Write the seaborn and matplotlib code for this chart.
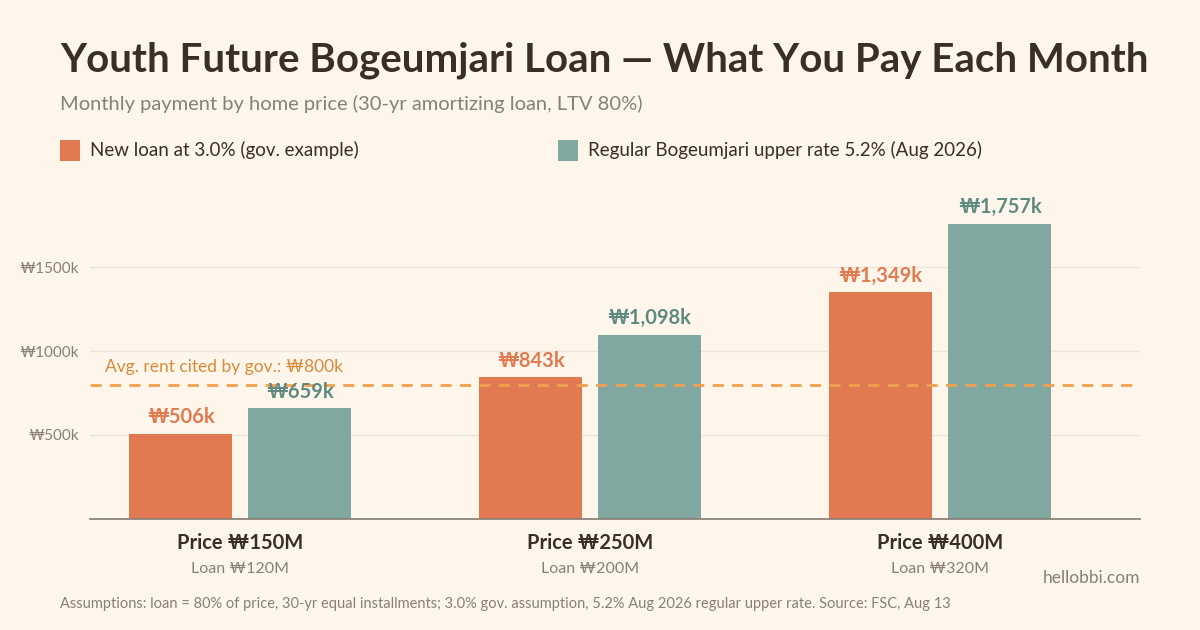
import matplotlib
matplotlib.use("Agg")
import matplotlib.pyplot as plt
import seaborn as sns
import pandas as pd

groups = ["Price ₩150M", "Price ₩250M", "Price ₩400M"]
loans = ["Loan ₩120M", "Loan ₩200M", "Loan ₩320M"]
series = ["New loan at 3.0% (gov. example)", "Regular Bogeumjari upper rate 5.2% (Aug 2026)"]
vals_30 = [506, 843, 1349]
vals_52 = [659, 1098, 1757]
rent = 800
yticks = [500, 1000, 1500]

BG = "#FEF6EA"
C1, C2 = "#E27A51", "#80A8A0"
sns.set_theme(style="white")
plt.rcParams['font.family'] = ['Lato', 'DejaVu Sans']

df = pd.DataFrame({"group": groups * 2, "series": [series[0]] * 3 + [series[1]] * 3,
                   "val": vals_30 + vals_52})

fig = plt.figure(figsize=(12, 6.3), dpi=100, facecolor=BG)
ax = fig.add_axes([0.075, 0.1762, 0.875, 0.5333])
ax.set_facecolor(BG)
sns.barplot(data=df, x="group", y="val", hue="series", palette=[C1, C2],
            ax=ax, width=0.68, gap=0.14, legend=False, saturation=1, linewidth=0)
ax.set_xlim(-0.4286, 2.5714)
ax.set_ylim(0, 2000)
ax.set_yticks(yticks)
ax.set_yticklabels([f"₩{v}k" for v in yticks], color="#8a7f76", fontsize=11)
ax.tick_params(axis='y', length=0, pad=8)
ax.grid(axis='y', color="#EDE3D6", lw=1)
ax.set_axisbelow(True)
for s in ["top", "right", "left"]:
    ax.spines[s].set_visible(False)
ax.spines["bottom"].set_color("#8a7f76")
ax.set_xlabel(""); ax.set_ylabel("")
ax.set_xticks([0, 1, 2])
ax.set_xticklabels([])
ax.tick_params(axis='x', length=0)
for i, (g, l) in enumerate(zip(groups, loans)):
    ax.text(i, -0.07, g, transform=ax.get_xaxis_transform(), ha="center", va="center",
            fontsize=14.5, fontweight="bold", color="#3a2e26")
    ax.text(i, -0.15, l, transform=ax.get_xaxis_transform(), ha="center", va="center",
            fontsize=11.5, color="#8a7f76")

for cont, col in zip(ax.containers, [C1, "#5f8a82"]):
    for b in cont:
        h = b.get_height()
        ax.text(b.get_x() + b.get_width() / 2, h + 40, f"₩{h:,.0f}k", ha="center", va="bottom",
                fontsize=14.5, fontweight="bold", color=col)

ax.axhline(rent, color="#F0A050", lw=2, ls=(0, (4, 3)))
ax.text(-0.385, rent + 55, f"Avg. rent cited by gov.: ₩{rent}k", fontsize=12.5, color="#D98A3A",
        va="bottom", bbox=dict(facecolor=BG, edgecolor="none", pad=2))

fig.text(0.05, 0.905, "Youth Future Bogeumjari Loan — What You Pay Each Month", fontsize=29,
         fontweight="bold", color="#3a2e26", va="center")
fig.text(0.05, 0.835, "Monthly payment by home price (30-yr amortizing loan, LTV 80%)", fontsize=14.5,
         color="#8a7f76", va="center")
for x, c, t in [(0.05, C1, series[0]), (0.465, C2, series[1])]:
    fig.patches.append(plt.Rectangle((x, 0.745), 0.017, 0.033, transform=fig.transFigure,
                                     facecolor=c, edgecolor="none"))
    fig.text(x + 0.025, 0.762, t, fontsize=13.5, color="#3a2e26", va="center")
fig.text(0.95, 0.082, "hellobbi.com", fontsize=12.5, color="#8a7f76", ha="right", va="center")
fig.text(0.05, 0.042, "Assumptions: loan = 80% of price, 30-yr equal installments; 3.0% gov. assumption, 5.2% Aug 2026 regular upper rate. Source: FSC, Aug 13",
         fontsize=10.5, color="#8a7f76", va="center")
fig.savefig("out.png", facecolor=BG)
